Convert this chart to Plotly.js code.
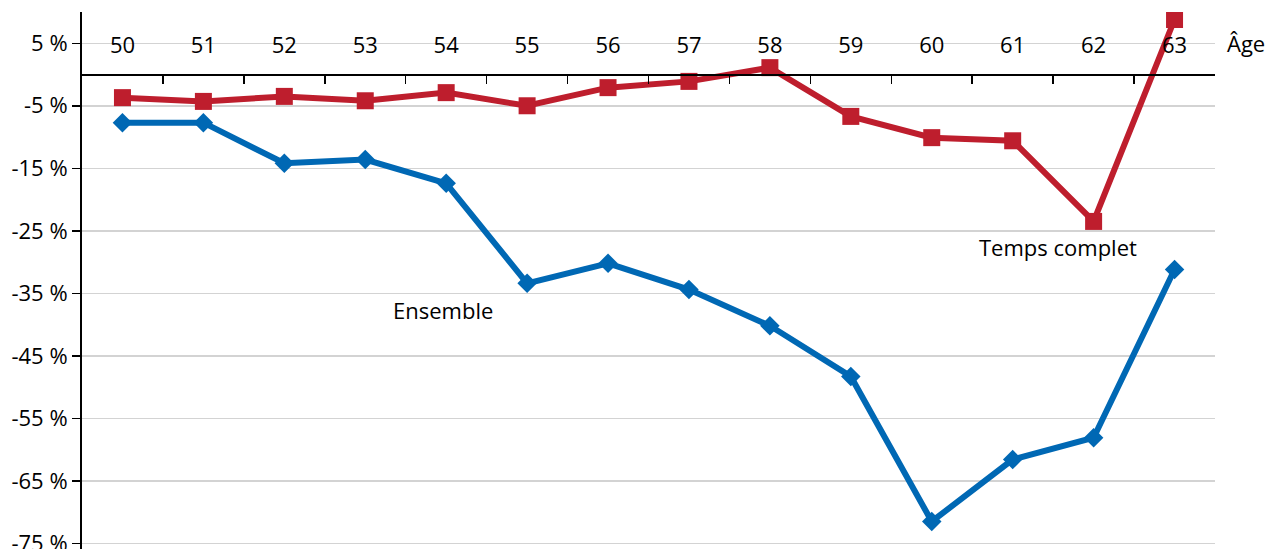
<!DOCTYPE html>
<html>
<head>
<meta charset="utf-8">
<script src="https://cdn.plot.ly/plotly-3.0.1.min.js"></script>
<style>html,body{margin:0;padding:0;background:#fff;}#chart{width:1281px;height:549px;}</style>
</head>
<body>
<div id="chart"></div>
<script>
const ages = [50, 51, 52, 53, 54, 55, 56, 57, 58, 59, 60, 61, 62, 63];
const tempsComplet = [-3.7, -4.3, -3.5, -4.2, -2.9, -5.0, -2.1, -1.1, 1.1, -6.7, -10.1, -10.6, -23.5, 8.8];
const ensemble = [-7.7, -7.7, -14.2, -13.6, -17.4, -33.4, -30.2, -34.4, -40.2, -48.3, -71.5, -61.6, -58.1, -31.2];
const yTicks = [5, -5, -15, -25, -35, -45, -55, -65, -75];
const yTickLabels = yTicks.map(v => v + ' %');
const xTickLabels = ages.map(String);
const betweenTicks = ages.map(a => a + 0.5);

const yRange = [-75.9, 10];
const zeroPos = (0 - yRange[0]) / (yRange[1] - yRange[0]);
const font = 'Open Sans, Noto Sans, sans-serif';
const fs = 22;

const traces = [
  {x: ages, y: ensemble, type: 'scatter', mode: 'lines+markers', name: 'Ensemble',
   line: {color: '#0068b4', width: 6}, marker: {symbol: 'diamond', size: 15, color: '#0068b4'}, xaxis: 'x', yaxis: 'y'},
  {x: ages, y: tempsComplet, type: 'scatter', mode: 'lines+markers', name: 'Temps complet',
   line: {color: '#be1e2d', width: 6}, marker: {symbol: 'square', size: 17, color: '#be1e2d'}, xaxis: 'x', yaxis: 'y'},
  {x: [ages[0]], y: [null], type: 'scatter', mode: 'markers', xaxis: 'x2', yaxis: 'y', hoverinfo: 'skip', showlegend: false}
];

const layout = {
  width: 1281, height: 549,
  margin: {l: 82, r: 66, t: 12, b: 0},
  paper_bgcolor: '#fff', plot_bgcolor: '#fff',
  showlegend: false,
  font: {family: font, size: fs, color: '#000'},
  xaxis: {
    range: [49.5, 63.5], anchor: 'free', position: zeroPos, side: 'top',
    tickmode: 'array', tickvals: ages, ticktext: xTickLabels, ticks: '',
    showline: true, linecolor: '#000', linewidth: 2, showgrid: false, zeroline: false,
    tickfont: {family: font, size: fs, color: '#000'}, ticklabelstandoff: 12
  },
  xaxis2: {
    range: [49.5, 63.5], overlaying: 'x', anchor: 'free', position: zeroPos, side: 'top',
    tickmode: 'array', tickvals: betweenTicks, ticks: 'inside', ticklen: 8, tickwidth: 1.5, tickcolor: '#000',
    showticklabels: false, showline: false, showgrid: false, zeroline: false
  },
  yaxis: {
    range: yRange, tickmode: 'array', tickvals: yTicks, ticktext: yTickLabels,
    ticks: 'outside', ticklen: 8, tickwidth: 1.5, tickcolor: '#000', ticklabeloverflow: 'allow',
    showline: true, linecolor: '#000', linewidth: 2,
    showgrid: true, gridcolor: '#d3d3d3', gridwidth: 1.5, zeroline: false,
    tickfont: {family: font, size: fs, color: '#000'}
  },
  annotations: [
    {text: 'Âge', xref: 'paper', yref: 'y', x: 1, y: 5, xanchor: 'left', yanchor: 'middle', xshift: 10, showarrow: false, font: {family: font, size: fs, color: '#000'}},
    {text: 'Ensemble', xref: 'x', yref: 'y', x: 53.96, y: -37.7, showarrow: false, font: {family: font, size: fs, color: '#000'}},
    {text: 'Temps complet', xref: 'x', yref: 'y', x: 61.56, y: -27.6, showarrow: false, font: {family: font, size: fs, color: '#000'}}
  ]
};

Plotly.newPlot('chart', traces, layout, {staticPlot: true});
</script>
</body>
</html>
